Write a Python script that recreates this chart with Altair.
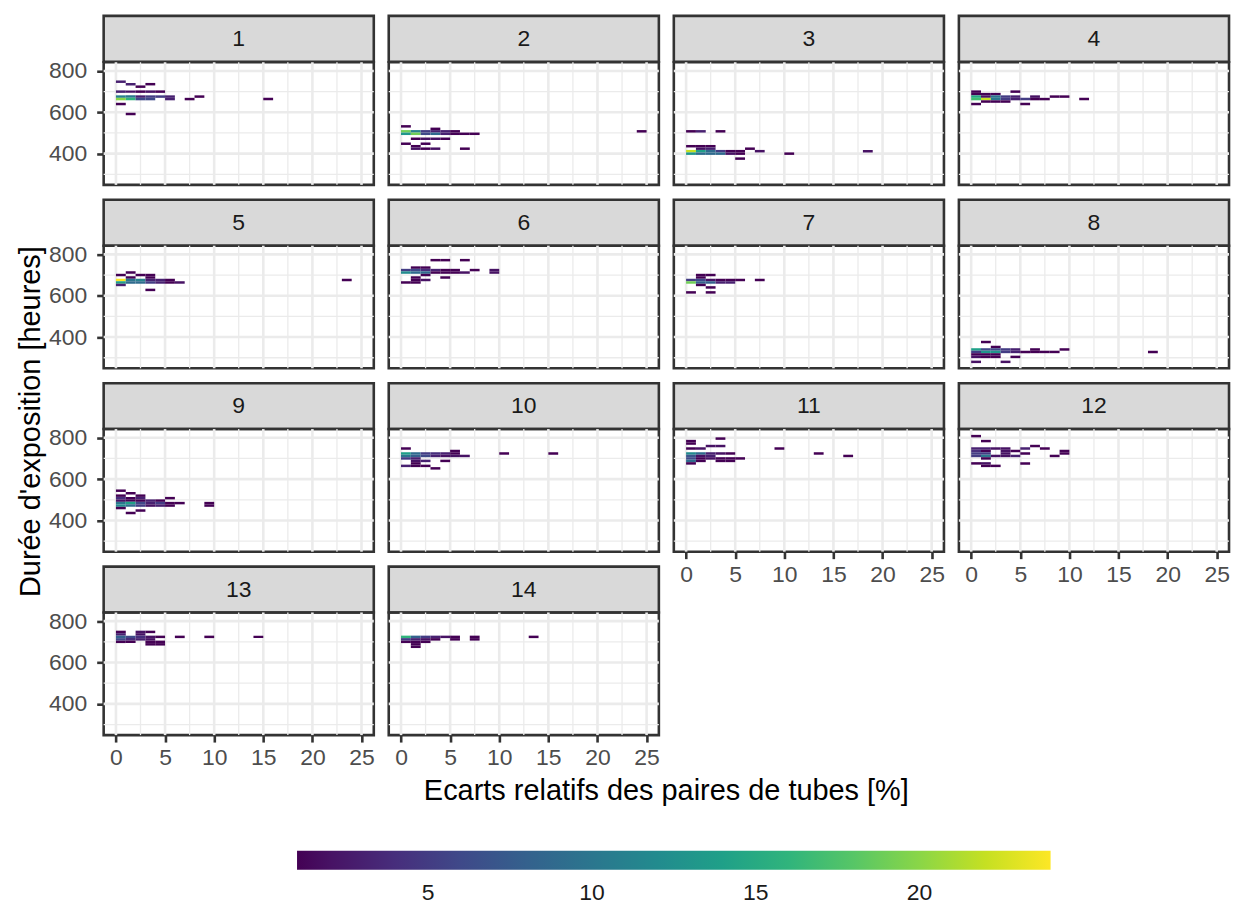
import altair as alt
import pandas as pd

# Binned counts per sensor site: (x bin, y bin, count).
# x bins are 1 % wide starting at 0; y bins are 12 h tall starting at 274 h.
X_BIN_WIDTH = 1.0
Y_BIN_ORIGIN = 274.0
Y_BIN_HEIGHT = 12.0

PANEL_1 = [(0, 39, 3), (1, 38, 3), (3, 38, 1), (2, 37, 1), (0, 35, 3), (1, 35, 2), (2, 35, 1),
           (3, 35, 2), (4, 35, 1), (0, 33, 11), (1, 33, 10), (2, 33, 3), (3, 33, 5), (4, 33, 5),
           (5, 33, 3), (8, 33, 1), (0, 32, 20), (1, 32, 16), (2, 32, 6), (3, 32, 6), (5, 32, 3),
           (7, 32, 1), (15, 32, 1), (0, 30, 1), (1, 26, 1)]
PANEL_2 = [(0, 21, 1), (3, 20, 1), (0, 19, 19), (1, 19, 11), (2, 19, 5), (3, 19, 3), (4, 19, 3),
           (5, 19, 1), (24, 19, 1), (0, 18, 13), (1, 18, 19), (2, 18, 6), (3, 18, 9), (4, 18, 3),
           (5, 18, 1), (6, 18, 1), (7, 18, 1), (1, 16, 1), (2, 16, 2), (3, 16, 2), (4, 16, 1),
           (0, 14, 1), (2, 14, 1), (1, 13, 1), (1, 12, 2), (2, 12, 1), (3, 12, 2), (6, 12, 1)]
PANEL_3 = [(0, 19, 1), (1, 19, 3), (3, 19, 1), (0, 13, 1), (1, 13, 1), (2, 13, 1), (1, 12, 2),
           (2, 12, 3), (6, 12, 1), (0, 11, 22), (1, 11, 14), (2, 11, 9), (3, 11, 5), (4, 11, 1),
           (5, 11, 1), (7, 11, 2), (18, 11, 2), (0, 10, 13), (1, 10, 9), (2, 10, 9), (3, 10, 9),
           (4, 10, 2), (5, 10, 1), (10, 10, 1), (5, 8, 1)]
PANEL_4 = [(0, 35, 1), (4, 35, 1), (0, 34, 1), (1, 34, 1), (2, 34, 1), (0, 33, 15), (1, 33, 2),
           (2, 33, 10), (3, 33, 5), (4, 33, 3), (6, 33, 2), (8, 33, 1), (9, 33, 1), (0, 32, 17),
           (1, 32, 22), (2, 32, 10), (3, 32, 5), (4, 32, 3), (5, 32, 5), (6, 32, 1), (7, 32, 1),
           (11, 32, 1), (1, 31, 1), (2, 31, 1), (3, 31, 1), (0, 30, 1), (5, 30, 1)]
PANEL_5 = [(1, 36, 1), (0, 35, 1), (2, 35, 1), (3, 35, 1), (1, 34, 1), (3, 34, 1), (0, 33, 24),
           (1, 33, 10), (2, 33, 11), (3, 33, 3), (4, 33, 3), (5, 33, 1), (23, 33, 1), (0, 32, 14),
           (1, 32, 9), (2, 32, 9), (3, 32, 5), (4, 32, 3), (5, 32, 1), (6, 32, 2), (0, 31, 3),
           (3, 29, 1)]
PANEL_6 = [(3, 41, 1), (4, 41, 1), (6, 41, 1), (1, 38, 1), (2, 38, 1), (0, 37, 5), (1, 37, 6),
           (2, 37, 4), (3, 37, 3), (4, 37, 1), (5, 37, 1), (7, 37, 1), (9, 37, 2), (0, 36, 12),
           (1, 36, 9), (2, 36, 9), (3, 36, 1), (4, 36, 1), (5, 36, 1), (6, 36, 2), (9, 36, 2),
           (2, 35, 1), (1, 34, 1), (4, 34, 1), (1, 33, 1), (2, 33, 2), (0, 32, 1), (1, 32, 1)]
PANEL_7 = [(1, 35, 1), (2, 35, 1), (1, 34, 1), (0, 33, 5), (1, 33, 6), (2, 33, 2), (3, 33, 1),
           (4, 33, 1), (5, 33, 1), (7, 33, 1), (0, 32, 19), (1, 32, 8), (2, 32, 8), (3, 32, 3),
           (4, 32, 3), (1, 31, 1), (2, 30, 1), (0, 28, 1), (2, 28, 1)]
PANEL_8 = [(1, 8, 1), (2, 6, 1), (0, 5, 14), (1, 5, 6), (2, 5, 6), (3, 5, 5), (4, 5, 3), (6, 5, 1),
           (9, 5, 1), (0, 4, 5), (1, 4, 13), (2, 4, 13), (3, 4, 5), (4, 4, 3), (5, 4, 1), (6, 4, 1),
           (7, 4, 1), (8, 4, 1), (18, 4, 1), (0, 3, 1), (1, 3, 1), (2, 3, 1), (0, 2, 2), (1, 2, 1),
           (2, 2, 1), (4, 2, 1), (0, 0, 2), (3, 0, 2)]
PANEL_9 = [(0, 22, 1), (1, 21, 1), (0, 20, 1), (2, 20, 1), (0, 19, 4), (1, 19, 1), (2, 19, 3),
           (5, 19, 1), (0, 18, 2), (1, 18, 1), (2, 18, 1), (3, 18, 3), (4, 18, 1), (0, 17, 10),
           (1, 17, 14), (2, 17, 6), (3, 17, 3), (4, 17, 5), (5, 17, 1), (6, 17, 1), (9, 17, 1),
           (0, 16, 12), (1, 16, 9), (2, 16, 5), (3, 16, 2), (4, 16, 3), (5, 16, 1), (9, 16, 1),
           (0, 15, 1), (2, 14, 1), (1, 13, 1)]
PANEL_10 = [(0, 39, 1), (5, 38, 1), (0, 37, 14), (1, 37, 9), (2, 37, 5), (3, 37, 4), (4, 37, 3),
            (5, 37, 1), (10, 37, 1), (15, 37, 1), (0, 36, 10), (1, 36, 8), (2, 36, 6), (3, 36, 3),
            (4, 36, 2), (5, 36, 2), (6, 36, 2), (0, 35, 5), (1, 35, 3), (1, 34, 2), (2, 34, 3),
            (4, 34, 1), (1, 33, 1), (0, 32, 3), (1, 32, 1), (2, 32, 1), (3, 31, 1)]
PANEL_11 = [(3, 43, 1), (0, 42, 1), (0, 41, 1), (2, 40, 2), (3, 40, 2), (0, 39, 1), (1, 39, 2),
            (9, 39, 1), (0, 37, 12), (1, 37, 9), (2, 37, 3), (3, 37, 2), (4, 37, 1), (13, 37, 1),
            (0, 36, 7), (1, 36, 2), (2, 36, 3), (16, 36, 1), (0, 35, 6), (1, 35, 1), (2, 35, 2),
            (3, 35, 1), (4, 35, 1), (5, 35, 1), (0, 34, 9), (1, 34, 1), (3, 34, 1), (4, 34, 1),
            (0, 33, 1)]
PANEL_12 = [(0, 44, 1), (1, 42, 1), (6, 40, 1), (0, 39, 3), (1, 39, 3), (2, 39, 2), (3, 39, 2),
            (5, 39, 3), (7, 39, 1), (0, 38, 4), (1, 38, 1), (3, 38, 2), (4, 38, 1), (9, 38, 1),
            (0, 37, 5), (1, 37, 5), (3, 37, 2), (5, 37, 1), (9, 37, 1), (0, 36, 5), (1, 36, 10),
            (2, 36, 2), (3, 36, 2), (4, 36, 3), (8, 36, 1), (1, 35, 1), (0, 33, 1), (1, 33, 2),
            (5, 33, 1), (1, 32, 1), (2, 32, 1)]
PANEL_13 = [(0, 39, 1), (2, 39, 2), (3, 39, 1), (0, 38, 3), (2, 38, 2), (0, 37, 8), (1, 37, 6),
            (2, 37, 4), (3, 37, 2), (4, 37, 1), (6, 37, 1), (9, 37, 1), (14, 37, 1), (0, 36, 6),
            (1, 36, 4), (2, 36, 3), (3, 36, 2), (0, 35, 1), (1, 35, 1), (3, 35, 1), (4, 35, 1),
            (3, 34, 1), (4, 34, 1)]
PANEL_14 = [(0, 37, 16), (1, 37, 8), (2, 37, 5), (3, 37, 3), (4, 37, 2), (5, 37, 1), (7, 37, 1),
            (13, 37, 1), (0, 36, 5), (1, 36, 3), (2, 36, 2), (3, 36, 1), (5, 36, 1), (7, 36, 1),
            (0, 35, 1), (1, 35, 1), (2, 35, 1), (1, 34, 1), (1, 33, 1)]

PANELS = [PANEL_1, PANEL_2, PANEL_3, PANEL_4, PANEL_5, PANEL_6, PANEL_7,
          PANEL_8, PANEL_9, PANEL_10, PANEL_11, PANEL_12, PANEL_13, PANEL_14]
PANEL_LABELS = [str(i) for i in range(1, 15)]

X_MAJOR = [0, 5, 10, 15, 20, 25]
X_MINOR = [2.5, 7.5, 12.5, 17.5, 22.5]
Y_MAJOR = [400, 600, 800]
Y_MINOR = [300, 500, 700]
LEGEND_VALUES = [5, 10, 15, 20]

X_TITLE = "Ecarts relatifs des paires de tubes [%]"
Y_TITLE = "Durée d'exposition [heures]"

# ---- layout ----
W = 271
PLOT_H = 123
GAP = 15
FIRST_GAP = 13.5
STRIP_H = 46
NCOL = 4
FONT = "Liberation Sans"
TICK_FS = 23
TITLE_FS = 29
LINE = 2.6

xscale = alt.Scale(domain=[-1.25, 26.25], nice=False, zero=False)
yscale = alt.Scale(domain=[249, 842], nice=False, zero=False)
cscale = alt.Scale(scheme="viridis", domain=[1, 24])

legend = alt.Legend(
    orient="none", legendX=194, legendY=851, direction="horizontal",
    gradientLength=756, gradientThickness=19, values=LEGEND_VALUES,
    labelFontSize=TICK_FS, labelColor="#1a1a1a", labelFont=FONT, labelOffset=12,
    gradientStrokeWidth=0, padding=0,
)

rows = []
for p, bins in enumerate(PANELS):
    for xb, yb, n in bins:
        rows.append({
            "panel": p + 1,
            "x0": xb * X_BIN_WIDTH, "x1": (xb + 1) * X_BIN_WIDTH,
            "y0": Y_BIN_ORIGIN + yb * Y_BIN_HEIGHT, "y1": Y_BIN_ORIGIN + (yb + 1) * Y_BIN_HEIGHT,
            "count": n,
        })
bins_df = pd.DataFrame(rows)

AXIS_COMMON = dict(
    labelFont=FONT, labelFontSize=TICK_FS, labelColor="#4d4d4d", tickColor="#333333",
    tickWidth=LINE, tickSize=7, domain=False, grid=False,
)


def x_axis(i):
    if i < 11:
        return None
    kw = dict(values=X_MAJOR, labelFlush=False, labelPadding=5, **AXIS_COMMON)
    if i == 13:
        return alt.Axis(title=X_TITLE, titleFont=FONT, titleFontSize=TITLE_FS,
                        titleFontWeight="normal", titleColor="#000000",
                        titleX=564, titleY=56, titleBaseline="middle", **kw)
    return alt.Axis(title=None, **kw)


def y_axis(i):
    if (i - 1) % NCOL != 0:
        return None
    kw = dict(values=Y_MAJOR, labelPadding=10, **AXIS_COMMON)
    if i == 5:
        return alt.Axis(title=Y_TITLE, titleFont=FONT, titleFontSize=TITLE_FS,
                        titleFontWeight="normal", titleColor="#000000",
                        titleAngle=270, titleX=-73, titleY=176,
                        titleBaseline="middle", **kw)
    return alt.Axis(title=None, **kw)


def panel_chart(i):
    xa, ya = x_axis(i), y_axis(i)
    minor_x = alt.Chart(pd.DataFrame({"v": X_MINOR})).mark_rule(
        color="#ebebeb", strokeWidth=LINE / 2
    ).encode(x=alt.X("v:Q", scale=xscale, axis=xa))
    minor_y = alt.Chart(pd.DataFrame({"v": Y_MINOR})).mark_rule(
        color="#ebebeb", strokeWidth=LINE / 2
    ).encode(y=alt.Y("v:Q", scale=yscale, axis=ya))
    major_x = alt.Chart(pd.DataFrame({"v": X_MAJOR})).mark_rule(
        color="#ebebeb", strokeWidth=LINE
    ).encode(x=alt.X("v:Q", scale=xscale, axis=xa))
    major_y = alt.Chart(pd.DataFrame({"v": Y_MAJOR})).mark_rule(
        color="#ebebeb", strokeWidth=LINE
    ).encode(y=alt.Y("v:Q", scale=yscale, axis=ya))
    rects = alt.Chart(bins_df[bins_df.panel == i]).mark_rect().encode(
        x=alt.X("x0:Q", scale=xscale, axis=xa),
        x2="x1:Q",
        y=alt.Y("y0:Q", scale=yscale, axis=ya),
        y2="y1:Q",
        color=alt.Color("count:Q", scale=cscale, legend=legend, title=None),
    )
    return alt.layer(minor_x, minor_y, major_x, major_y, rects).properties(
        width=W, height=PLOT_H,
        view=alt.ViewBackground(stroke="#333333", strokeWidth=LINE),
    )


def strip_chart(i, gap):
    d = pd.DataFrame({"label": [PANEL_LABELS[i - 1]]})
    box = alt.Chart(d).mark_rect(fill="#d9d9d9", stroke="#333333", strokeWidth=LINE).encode(
        x=alt.value(0), x2=alt.value(W), y=alt.value(gap), y2=alt.value(gap + STRIP_H)
    )
    txt = alt.Chart(d).mark_text(font=FONT, fontSize=TICK_FS, color="#1a1a1a").encode(
        x=alt.value(W / 2), y=alt.value(gap + STRIP_H / 2), text="label:N"
    )
    return alt.layer(box, txt).properties(
        width=W, height=gap + STRIP_H,
        view=alt.ViewBackground(stroke="transparent"),
    )


def blank_chart():
    d = pd.DataFrame({"a": [0]})
    return alt.Chart(d).mark_point(opacity=0).encode(
        x=alt.value(0), y=alt.value(0)
    ).properties(width=W, height=GAP + STRIP_H, view=alt.ViewBackground(stroke="transparent"))


cells = []
for r in range(4):
    ids = [r * NCOL + c + 1 for c in range(NCOL)]
    ids = [i for i in ids if i <= 14]
    gap = FIRST_GAP if r == 0 else GAP
    cells += [strip_chart(i, gap) for i in ids]
    cells += [blank_chart() for _ in range(NCOL - len(ids))]
    cells += [panel_chart(i) for i in ids]

chart = alt.concat(
    *cells, columns=NCOL, spacing={"row": 0, "column": GAP}, bounds="flush"
).properties(
    padding={"left": 15, "top": 0, "right": 3, "bottom": 0},
    background="white",
).configure_view(stroke="transparent")

chart.save("out.html", embed_options={"renderer": "svg", "actions": False})
